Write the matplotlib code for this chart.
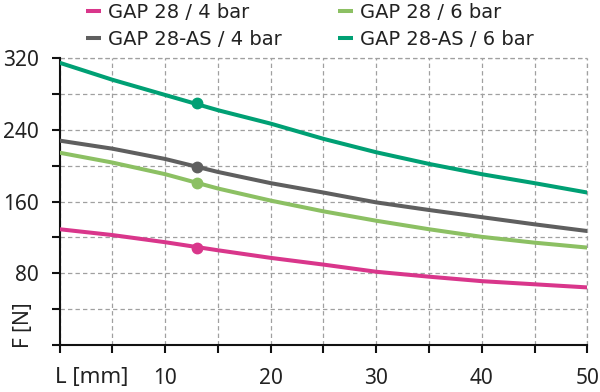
import matplotlib.pyplot as plt
import numpy as np

# stroke length L [mm]
L = [0, 5, 10, 15, 20, 25, 30, 35, 40, 45, 50]

# force F [N]
f_gap28_4 = [129, 122.5, 114.5, 105.5, 97, 89.5, 81.5, 76, 71, 67.5, 64]
f_gap28as_4 = [228, 219, 207.5, 193, 180.5, 170, 159, 150.5, 142.5, 134.5, 127]
f_gap28_6 = [214.5, 203.5, 190.5, 174.5, 161, 149, 138.5, 129, 120.5, 114, 108.5]
f_gap28as_6 = [315, 296, 279, 262, 247, 230, 215, 202, 190.5, 180.5, 170]

# highlighted operating point
mark_L = 13
mark_F = [107.7, 198, 180.3, 270.3]

labels = ['GAP 28 / 4 bar', 'GAP 28-AS / 4 bar', 'GAP 28 / 6 bar', 'GAP 28-AS / 6 bar']
colors = ['#d9368b', '#5f5f5f', '#8cc063', '#00a074']

plt.rcParams['font.family'] = ['Noto Sans', 'DejaVu Sans']

fig = plt.figure(figsize=(6, 3.92), dpi=100)
ax = fig.add_axes([59.7 / 600, 1 - 344.7 / 392, (587.3 - 59.7) / 600, (344.7 - 58.3) / 392])

series = [f_gap28_4, f_gap28as_4, f_gap28_6, f_gap28as_6]
handles = []
for i in range(len(series)):
    h, = ax.plot(L, series[i], color=colors[i], lw=2.9, label=labels[i],
                 solid_capstyle='butt', zorder=3)
    ax.plot(mark_L, mark_F[i], 'o', color=colors[i], ms=7.5, zorder=4)
    handles.append(h)

ax.set_xlim(0, 50)
ax.set_ylim(0, 320)

# ticks
ax.set_xticks(np.arange(0, 51, 5))
ax.set_xticklabels(['' if v % 10 or v == 0 else str(v) for v in range(0, 51, 5)])
ax.set_yticks(np.arange(0, 321, 40))
ax.set_yticklabels(['' if v % 80 or v == 0 else str(v) for v in range(0, 321, 40)])
ax.tick_params(axis='both', direction='out', length=6, width=1.5, labelsize=15,
               colors='#111111', labelcolor='#222222')
ax.tick_params(axis='x', pad=11)
ax.tick_params(axis='y', pad=9)

for s in ['top', 'right']:
    ax.spines[s].set_visible(False)
for s in ['left', 'bottom']:
    ax.spines[s].set_linewidth(1.5)
    ax.spines[s].set_color('#111111')

ax.grid(True, linestyle=(0, (3.5, 2.5)), color='#a0a0a0', lw=0.9, zorder=0)
ax.set_axisbelow(True)
# dashed border at top / right
ax.axhline(320, linestyle=(0, (3.5, 2.5)), color='#a0a0a0', lw=0.9, clip_on=False, zorder=0)
ax.axvline(50, linestyle=(0, (3.5, 2.5)), color='#a0a0a0', lw=0.9, clip_on=False, zorder=0)

# axis names sit in place of the zero labels
fig.text(55 / 600, 1 - 378 / 392, 'L [mm]', fontsize=16, color='#222222',
         ha='left', va='center')
fig.text(23 / 600, 1 - 325 / 392, 'F [N]', fontsize=15, color='#222222',
         ha='center', va='center', rotation=90)

# legend in two columns at fixed spots
leg_kw = dict(loc='upper left', frameon=False, handlelength=0.75,
              handletextpad=0.4, labelspacing=0.42, borderpad=0, borderaxespad=0,
              labelcolor='#222222', prop={'family': 'DejaVu Sans', 'size': 14})
fig.legend(handles[:2], labels[:2], bbox_to_anchor=(86 / 600, 1 - 3 / 392), **leg_kw)
fig.legend(handles[2:], labels[2:], bbox_to_anchor=(338 / 600, 1 - 3 / 392), **leg_kw)

fig.savefig('out.png', dpi=100)
